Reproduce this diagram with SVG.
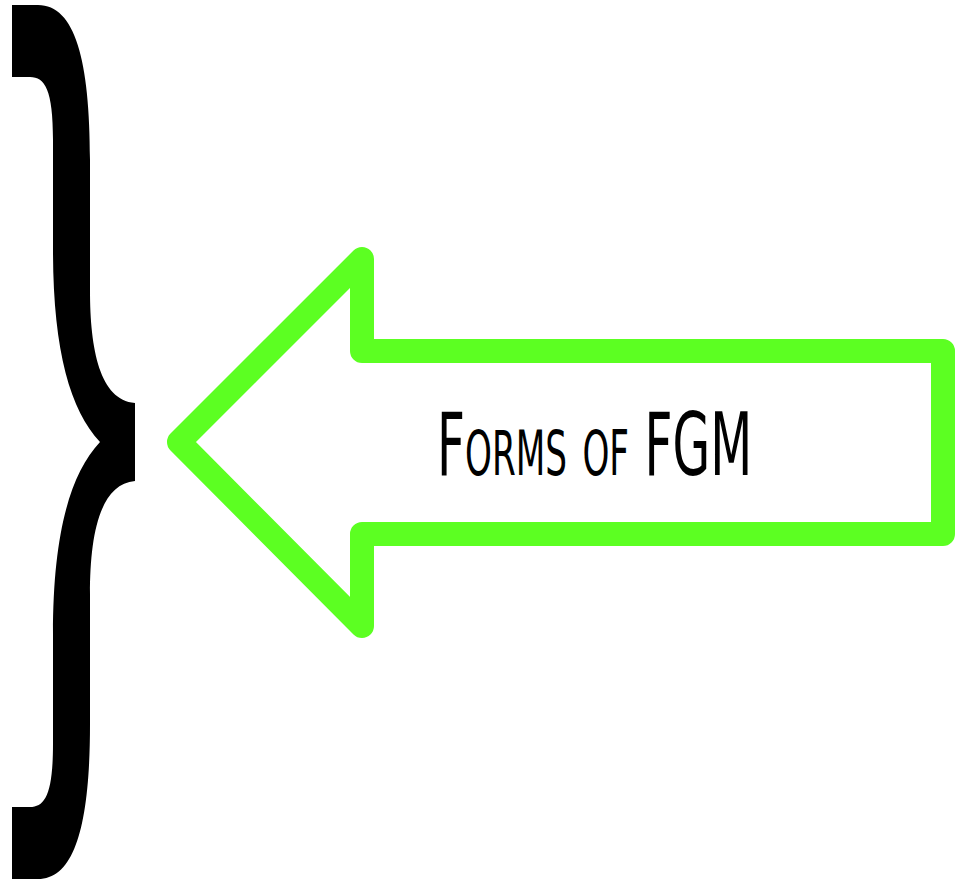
<svg xmlns="http://www.w3.org/2000/svg" width="966" height="880" viewBox="0 0 966 880">
<style>
.brace{fill:#000;stroke:none}
.arrow{fill:#fff;stroke:#5cff22;stroke-width:24;stroke-linejoin:round}
.label{font-family:"DejaVu Sans","Liberation Sans",sans-serif;font-size:88px;font-variant:small-caps;fill:#000}
</style>
<rect width="966" height="880" fill="#fff"/>
<g id="brace">
<path class="brace" d="M12,5 L38,5 C75,5 90,60 90,160 L90,290 C90,350 100,400 135,403 L135,481 C100,484 90,534 90,594 L90,724 C90,824 75,879 38,879 L12,879 L12,807 L30,807 C45,807 53,794 53,744 L53,634 C53,534 70,474 100,442 C70,410 53,350 53,250 L53,140 C53,90 45,77 30,77 L12,77 Z"/>
</g>
<g id="arrow">
<path class="arrow" d="M362,259 L179,442 L362,626 L362,534 L943,534 L943,351 L362,351 Z"/>
<text class="label" transform="translate(437,475) scale(0.554,1)" x="0" y="0" textLength="569" lengthAdjust="spacingAndGlyphs">Forms of FGM</text>
</g>
</svg>
